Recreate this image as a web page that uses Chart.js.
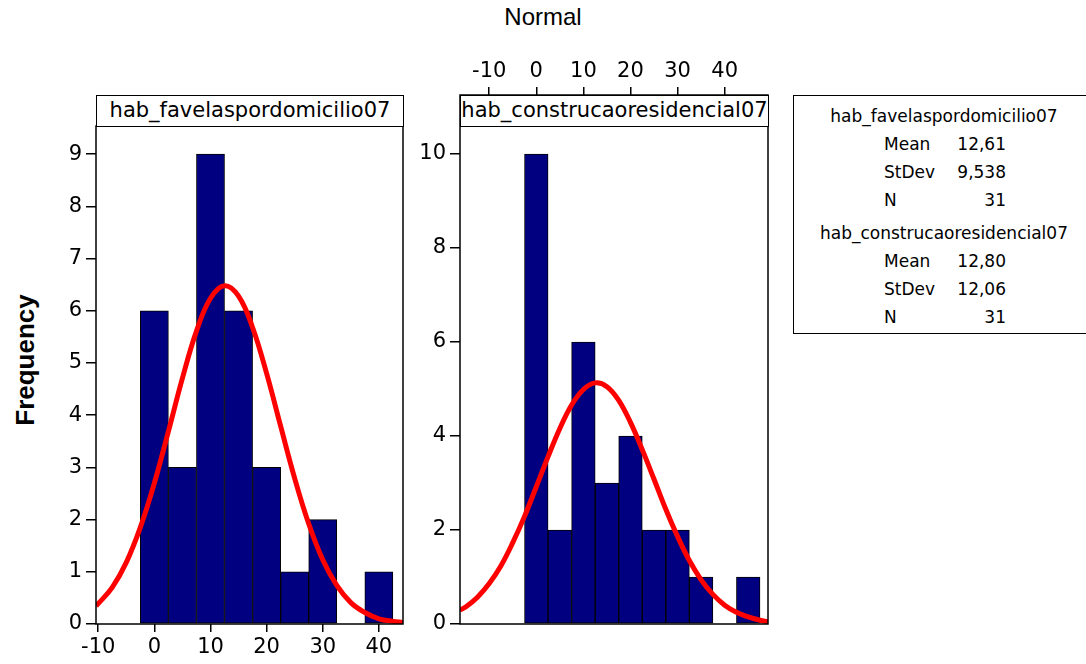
<!DOCTYPE html>
<html>
<head>
<meta charset="utf-8">
<title>Normal</title>
<script src="https://cdn.jsdelivr.net/npm/chart.js@4.4.0/dist/chart.umd.min.js"></script>
<style>
  body { margin: 0; background: #fff; }
  #wrap { position: relative; width: 1086px; height: 664px; overflow: hidden; font-family: "DejaVu Sans", sans-serif; color: #000; }
  canvas { position: absolute; }
  .hdr { position: absolute; box-sizing: border-box; height: 32px; top: 95px; border: 1.5px solid #000; background: #fff;
         text-align: center; font-size: 21px; line-height: 28px; white-space: nowrap; overflow: hidden; }
  #title { position: absolute; left: 0; width: 1086px; top: 3px; text-align: center; font: 24px "Liberation Sans", Arial, sans-serif; }
  #ylab { position: absolute; left: 25px; top: 360px; transform: translate(-50%, -50%) rotate(-90deg);
          font: bold 26px "Liberation Sans", Arial, sans-serif; white-space: nowrap; }
  #stats { position: absolute; left: 793px; top: 95px; width: 295px; height: 239px; box-sizing: border-box;
           border: 1.5px solid #000; font-size: 17px; }
  #stats div { position: absolute; line-height: 24px; white-space: nowrap; }
</style>
</head>
<body>
<div id="wrap">
  <div id="title">Normal</div>
  <div id="ylab">Frequency</div>
  <canvas id="left" width="370" height="573" style="left:40px; top:91px;"></canvas>
  <canvas id="right" width="380" height="614" style="left:400px; top:50px;"></canvas>
  <div class="hdr" id="hdr1" style="left:96px; width:308px;"></div>
  <div class="hdr" id="hdr2" style="left:460px; width:309px;"></div>
  <div id="stats"></div>
</div>
<script>
const seriesNames = ['hab_favelaspordomicilio07', 'hab_construcaoresidencial07'];

// histogram bins (bin width 5)
const bins1 = [0, 5, 10, 15, 20, 25, 30, 35, 40];
const counts1 = [6, 3, 9, 6, 3, 1, 2, 0, 1];
const bins2 = [0, 5, 10, 15, 20, 25, 30, 35, 40, 45];
const counts2 = [10, 2, 6, 3, 4, 2, 2, 1, 0, 1];

// fitted normal curve
const curveX1 = [-10.4, -10, -7.5, -5, -2.5, 0, 2.5, 5, 7.5, 10, 12.5, 15, 17.5, 20, 22.5, 25, 27.5, 30, 32.5, 35, 37.5, 40, 42.5, 44.3];
const curveY1 = [0.35, 0.39, 0.70, 1.18, 1.85, 2.70, 3.69, 4.71, 5.61, 6.24, 6.48, 6.28, 5.68, 4.80, 3.79, 2.79, 1.92, 1.23, 0.74, 0.41, 0.22, 0.10, 0.05, 0.03];
const curveX2 = [-16.2, -15, -12.5, -10, -7.5, -5, -2.5, 0, 2.5, 5, 7.5, 10, 12.5, 15, 17.5, 20, 22.5, 25, 27.5, 30, 32.5, 35, 37.5, 40, 42.5, 45, 47.5, 49.2];
const curveY2 = [0.30, 0.36, 0.57, 0.86, 1.24, 1.73, 2.29, 2.92, 3.56, 4.16, 4.66, 4.99, 5.13, 5.05, 4.76, 4.29, 3.71, 3.08, 2.44, 1.86, 1.35, 0.94, 0.63, 0.40, 0.25, 0.15, 0.08, 0.05];

const xTicks = [-10, 0, 10, 20, 30, 40];
const statLabels = ['Mean', 'StDev', 'N'];
const stats1 = ['12,61', '9,538', '31'];
const stats2 = ['12,80', '12,06', '31'];

Chart.defaults.font.family = '"DejaVu Sans", sans-serif';
Chart.defaults.font.size = 21;
Chart.defaults.color = '#000';

// draws the black frame round the plot area
const frameBox = {
  id: 'frameBox',
  afterDraw(chart) {
    const a = chart.chartArea, ctx = chart.ctx;
    ctx.save();
    ctx.strokeStyle = '#000';
    ctx.lineWidth = 1.5;
    ctx.strokeRect(a.left, a.top, a.right - a.left, a.bottom - a.top);
    ctx.restore();
  }
};

function histChart(id, bins, counts, cx, cy, o) {
  const ctx = document.getElementById(id).getContext('2d');
  return new Chart(ctx, {
    type: 'bar',
    data: {
      datasets: [{
        type: 'line',
        data: cx.map((x, i) => ({x: x, y: cy[i]})),
        borderColor: '#ff0000',
        borderWidth: 5,
        pointRadius: 0,
        tension: 0.4,
        order: 0
      }, {
        type: 'bar',
        data: bins.map((b, i) => ({x: b, y: counts[i]})),
        backgroundColor: '#000080',
        borderColor: '#000',
        borderWidth: 1,
        borderSkipped: false,
        barPercentage: 1,
        categoryPercentage: 1,
        order: 1
      }]
    },
    options: {
      responsive: false,
      animation: false,
      events: [],
      layout: {padding: o.padding},
      plugins: {legend: {display: false}, tooltip: {enabled: false}},
      scales: {
        x: {
          type: 'linear',
          position: o.xPos,
          min: o.xMin,
          max: o.xMax,
          offset: false,
          afterBuildTicks: s => { s.ticks = xTicks.map(v => ({value: v})); },
          afterFit: s => { s.height = o.xHeight; },
          ticks: {padding: 3, maxRotation: 0},
          grid: {offset: false, drawOnChartArea: false, tickLength: 8, color: '#000', lineWidth: 1.5},
          border: {display: false}
        },
        y: {
          min: 0,
          max: o.yMax,
          afterBuildTicks: s => { s.ticks = o.yTicks.map(v => ({value: v})); },
          afterFit: s => { s.width = o.yWidth; },
          ticks: {padding: 4},
          grid: {offset: false, drawOnChartArea: false, tickLength: 10, color: '#000', lineWidth: 1.5},
          border: {display: false}
        }
      }
    },
    plugins: [frameBox]
  });
}

histChart('left', bins1, counts1, curveX1, curveY1, {
  xPos: 'bottom', xMin: -10.4, xMax: 44.3, xHeight: 40,
  yMax: 9.54, yTicks: [0, 1, 2, 3, 4, 5, 6, 7, 8, 9], yWidth: 56,
  padding: {top: 35, right: 7, bottom: 0, left: 0}
});

histChart('right', bins2, counts2, curveX2, curveY2, {
  xPos: 'top', xMin: -16.2, xMax: 49.2, xHeight: 45,
  yMax: 11.255, yTicks: [0, 2, 4, 6, 8, 10], yWidth: 60,
  padding: {top: 0, right: 12, bottom: 40, left: 0}
});

document.getElementById('hdr1').textContent = seriesNames[0];
document.getElementById('hdr2').textContent = seriesNames[1];

// stats box on the right
const box = document.getElementById('stats');
function addText(txt, css) {
  const d = document.createElement('div');
  d.textContent = txt;
  Object.assign(d.style, css);
  box.appendChild(d);
}
[stats1, stats2].forEach((vals, k) => {
  const top0 = 8 + k * 117;
  addText(seriesNames[k], {left: '0', width: '300px', textAlign: 'center', top: top0 + 'px'});
  statLabels.forEach((lab, i) => {
    const t = top0 + 28 * (i + 1);
    addText(lab, {left: '90px', top: t + 'px'});
    addText(vals[i], {right: '81px', top: t + 'px', textAlign: 'right'});
  });
});
</script>
</body>
</html>
